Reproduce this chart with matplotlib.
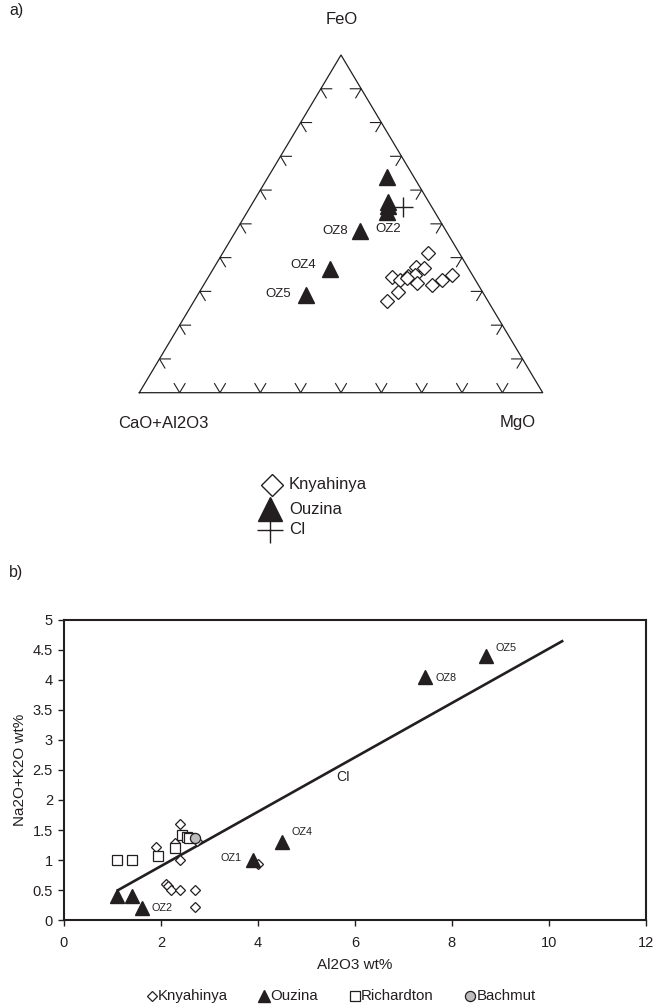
import numpy as np
import matplotlib
matplotlib.use("Agg")
import matplotlib.pyplot as plt

plt.rcParams["font.family"] = ["Liberation Sans", "DejaVu Sans"]

INK = "#231f20"
W, H = 656, 1007
SQ3 = np.sqrt(3) / 2

# ── a) ternary data, wt% (FeO, CaO+Al2O3, MgO) ─────────────────────
ouz_feo = [64.0, 56.6, 55.3, 53.6, 47.9, 36.7, 28.9]
ouz_mgo = [29.4, 33.4, 33.9, 34.5, 30.7, 28.9, 26.9]
ouz_cao = [6.6, 10.0, 10.8, 11.9, 21.4, 34.4, 44.2]
ouz_tern_labels = ["", "", "", "OZ2", "OZ8", "OZ4", "OZ5"]

kny_feo = [41.5, 37.3, 36.8, 34.4, 33.4, 34.6, 33.9, 34.9, 32.4, 31.9, 33.4, 34.9, 29.9, 27.2, 33.9]
kny_mgo = [50.7, 49.9, 52.2, 45.4, 48.0, 49.4, 50.6, 50.9, 52.6, 56.5, 58.3, 60.0, 49.3, 47.7, 49.4]
kny_cao = [100 - f - m for f, m in zip(kny_feo, kny_mgo)]

ci_feo, ci_mgo, ci_cao = [55.1], [37.9], [7.0]

# ── b) Al2O3 vs Na2O+K2O (wt%) ─────────────────────────────────────
kny_al = [2.4, 1.9, 2.3, 2.4, 2.1, 2.15, 2.2, 2.4, 2.7, 2.7, 4.0, 2.75]
kny_alk = [1.6, 1.22, 1.28, 1.0, 0.61, 0.57, 0.5, 0.5, 0.5, 0.22, 0.94, 1.31]

ouz_al = [1.1, 1.4, 1.6, 3.9, 4.5, 7.45, 8.7]
ouz_alk = [0.4, 0.4, 0.2, 1.0, 1.3, 4.05, 4.4]
ouz_labels = ["", "", "OZ2", "OZ1", "OZ4", "OZ8", "OZ5"]

ric_al = [1.1, 1.4, 1.93, 2.3, 2.43, 2.53, 2.58]
ric_alk = [1.0, 1.0, 1.07, 1.21, 1.42, 1.39, 1.37]

bac_al = [2.7]
bac_alk = [1.36]

ci_line_al = [1.09, 10.3]
ci_line_alk = [0.49, 4.65]


def fx(px):
    return px / W


def fy(py):
    return 1 - py / H


def tern_xy(feo, cao, mgo):
    feo, cao, mgo = (np.asarray(v, float) for v in (feo, cao, mgo))
    tot = feo + cao + mgo
    f, m = feo / tot, mgo / tot
    return m + f / 2, f * SQ3


fig = plt.figure(figsize=(W / 100, H / 100), dpi=100)

# ── a) ternary ──────────────────────────────────────────────────────
ax1 = fig.add_axes([fx(139.3), fy(392.7), fx(542.7) - fx(139.3), fy(55) - fy(392.7)])
ax1.set_xlim(0, 1)
ax1.set_ylim(0, SQ3)
ax1.axis("off")

ax1.plot([0, 1, 0.5, 0], [0, 0, SQ3, 0], color=INK, lw=0.9, clip_on=False)
L = 0.027
for i in range(1, 10):
    t = i / 10
    # bottom: V
    ax1.plot([t - L / 2, t, t + L / 2], [L * SQ3, 0, L * SQ3], color=INK, lw=0.8)
    # left edge
    x0, y0 = t / 2, t * SQ3
    ax1.plot([x0 + L, x0, x0 + L / 2], [y0, y0, y0 - L * SQ3], color=INK, lw=0.8)
    # right edge
    x0 = 1 - t / 2
    ax1.plot([x0 - L, x0, x0 - L / 2], [y0, y0, y0 - L * SQ3], color=INK, lw=0.8)

kx, ky = tern_xy(kny_feo, kny_cao, kny_mgo)
ax1.plot(kx, ky, "D", ms=7.5, mfc="white", mec=INK, mew=0.9, ls="none", clip_on=False)
ox, oy = tern_xy(ouz_feo, ouz_cao, ouz_mgo)
ax1.plot(ox, oy, "^", ms=11, mfc=INK, mec=INK, ls="none", clip_on=False)
cx, cy = tern_xy(ci_feo, ci_cao, ci_mgo)
ax1.plot(cx, cy, "+", ms=14, mec=INK, mew=1.0, ls="none", clip_on=False)

tern_offsets = {"OZ2": (1, -12.5, "center"), "OZ8": (-8.6, 0, "right"),
                "OZ4": (-10, 2.4, "right"), "OZ5": (-11, 0.5, "right")}
for x, y, lab in zip(ox, oy, ouz_tern_labels):
    if lab:
        dx, dy, ha = tern_offsets[lab]
        ax1.annotate(lab, (x, y), xytext=(dx, dy), textcoords="offset points",
                     ha=ha, va="center", fontsize=9.5, color=INK)

fig.text(fx(342), fy(20), "FeO", ha="center", va="center", fontsize=12, color=INK)
fig.text(fx(163), fy(423), "CaO+Al2O3", ha="center", va="center", fontsize=12, color=INK)
fig.text(fx(518), fy(423), "MgO", ha="center", va="center", fontsize=12, color=INK)
fig.text(fx(9), fy(10), "a)", ha="left", va="center", fontsize=11.5, color=INK)
fig.text(fx(9), fy(572), "b)", ha="left", va="center", fontsize=11.5, color=INK)

# overlay in pixel coords for the legends
ov = fig.add_axes([0, 0, 1, 1])
ov.set_xlim(0, W)
ov.set_ylim(H, 0)
ov.axis("off")

ov.plot([271.5], [485], "D", ms=11, mfc="white", mec=INK, mew=1.0)
ov.plot([270], [509], "^", ms=17, mfc=INK, mec=INK)
ov.plot([270], [530], "+", ms=19, mec=INK, mew=1.0)
for y, lab in zip([485, 509, 530], ["Knyahinya", "Ouzina", "CI"]):
    ov.text(289, y, lab, ha="left", va="center", fontsize=12, color=INK)

# ── b) scatter ──────────────────────────────────────────────────────
ax2 = fig.add_axes([fx(64), fy(920.3), fx(645.7) - fx(64), fy(619.5) - fy(920.3)])
ax2.set_xlim(0, 12)
ax2.set_ylim(0, 5)
ax2.set_xticks(np.arange(0, 13, 2))
yt = np.arange(0, 5.01, 0.5)
ax2.set_yticks(yt)
ax2.set_yticklabels([f"{v:g}" for v in yt])
ax2.tick_params(direction="out", length=4, width=1, labelsize=10.5,
                colors=INK, pad=4)
ax2.tick_params(axis="x", pad=7)
for sp in ax2.spines.values():
    sp.set_linewidth(1.5)
    sp.set_color(INK)

ax2.plot(ci_line_al, ci_line_alk, color=INK, lw=1.9, solid_capstyle="butt")
ax2.text(5.75, 2.38, "CI", ha="center", va="center", fontsize=10, color=INK)

ax2.plot(kny_al, kny_alk, "D", ms=5.5, mfc="white", mec=INK, mew=0.9, ls="none")
ax2.plot(ric_al, ric_alk, "s", ms=6.5, mfc="white", mec=INK, mew=0.9, ls="none")
ax2.plot(bac_al, bac_alk, "o", ms=7.3, mfc="#bdbdbd", mec=INK, mew=0.9, ls="none")
ax2.plot(ouz_al, ouz_alk, "^", ms=9.5, mfc=INK, mec=INK, ls="none")

scat_offsets = {"OZ2": (7.2, 0, "left"), "OZ1": (-7.9, 1.2, "right"),
                "OZ4": (7, 7.5, "left"), "OZ8": (7.2, -1, "left"),
                "OZ5": (7.2, 5.3, "left")}
for x, y, lab in zip(ouz_al, ouz_alk, ouz_labels):
    if lab:
        dx, dy, ha = scat_offsets[lab]
        ax2.annotate(lab, (x, y), xytext=(dx, dy), textcoords="offset points",
                     ha=ha, va="center", fontsize=7.8, color=INK)

ax2.set_xlabel("Al2O3 wt%", fontsize=11, color=INK, labelpad=6)
ax2.set_ylabel("Na2O+K2O wt%", fontsize=11, color=INK, labelpad=4)

# bottom legend
leg_y = 996
ov.plot([151.5], [leg_y], "D", ms=5.5, mfc="white", mec=INK, mew=0.9)
ov.plot([264], [leg_y], "^", ms=9, mfc=INK, mec=INK)
ov.plot([355], [leg_y], "s", ms=6.5, mfc="white", mec=INK, mew=0.9)
ov.plot([470], [leg_y], "o", ms=7.3, mfc="#bdbdbd", mec=INK, mew=0.9)
for x, lab in zip([157.5, 270, 360.5, 477], ["Knyahinya", "Ouzina", "Richardton", "Bachmut"]):
    ov.text(x, leg_y, lab, ha="left", va="center", fontsize=10.8, color=INK)

fig.savefig("out.png", dpi=100)
